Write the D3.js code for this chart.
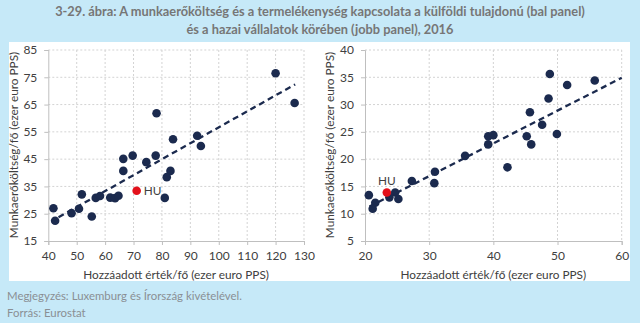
<!DOCTYPE html>
<html><head><meta charset="utf-8">
<script src="https://cdn.jsdelivr.net/npm/d3@7"></script>
<style>
html,body{margin:0;padding:0;background:#c6e9f8;}
svg{display:block;font-family:Lato,"Open Sans",sans-serif;}
</style></head>
<body>
<svg id="c" width="640" height="323"></svg>
<script>
// ---- data ----
const titleLines = ["3-29. ábra: A munkaerőköltség és a termelékenység kapcsolata a külföldi tulajdonú (bal panel)",
                    "és a hazai vállalatok körében (jobb panel), 2016"];
const notes = ["Megjegyzés: Luxemburg és Írország kivételével.", "Forrás: Eurostat"];
const xTitle = "Hozzáadott érték/fő (ezer euro PPS)";
const yTitle = "Munkaerőköltség/fő (ezer euro PPS)";

// left panel (foreign-owned)
const leftX = [120, 126.7, 78.1, 83.9, 92.4, 93.7, 66.4, 69.7, 77.8, 74.5, 66.4, 83.0, 81.7, 81.0, 51.8, 56.7, 58.2, 61.8, 63.5, 64.7, 41.8, 42.4, 48.2, 50.8, 55.3];
const leftY = [76.5, 65.6, 61.8, 52.3, 53.6, 49.8, 45.1, 46.3, 46.3, 43.9, 40.7, 40.7, 38.4, 30.8, 32.1, 30.8, 31.5, 30.9, 30.7, 31.6, 27.0, 22.4, 25.2, 26.8, 24.0];
const leftHU = [71.1, 33.4];
const leftTrendX = [43.6, 126.9];
const leftTrendY = [23.7, 72.4];
const leftXTicks = [40, 50, 60, 70, 80, 90, 100, 110, 120, 130];
const leftYTicks = [15, 25, 35, 45, 55, 65, 75, 85];

// right panel (domestic)
const rightX = [48.8, 51.5, 55.8, 48.6, 45.7, 47.6, 49.9, 45.2, 45.9, 39.2, 40.0, 39.2, 35.6, 42.2, 30.9, 27.3, 30.8, 20.6, 24.7, 23.8, 25.2, 21.6, 21.2];
const rightY = [35.6, 33.6, 34.4, 31.1, 28.6, 26.3, 24.6, 24.2, 22.7, 24.2, 24.4, 22.7, 20.6, 18.5, 17.7, 16.0, 15.6, 13.4, 13.9, 13.0, 12.7, 12.0, 10.9];
const rightHU = [23.4, 13.9];
const rightTrendX = [20.7, 60];
const rightTrendY = [11.3, 34.9];
const rightXTicks = [20, 30, 40, 50, 60];
const rightYTicks = [5, 10, 15, 20, 25, 30, 35, 40];

// ---- drawing ----
const svg = d3.select("#c");
const navy = "#1b2a4e", red = "#e3111b", grid = "#d3d3d3", txt = "#404040";

svg.append("rect").attr("x",0).attr("y",0).attr("width",640).attr("height",323).attr("fill","#c6e9f8");
svg.append("rect").attr("x",9).attr("y",42).attr("width",621).attr("height",239).attr("fill","#ffffff");

svg.selectAll("text.title").data(titleLines).join("text")
  .attr("class","title").attr("x",320).attr("y",(d,i)=>16+i*18)
  .attr("text-anchor","middle").attr("font-size",12.8).attr("font-weight","bold")
  .attr("fill","#767676").text(d=>d);

svg.selectAll("text.note").data(notes).join("text")
  .attr("class","note").attr("x",7).attr("y",(d,i)=>300+i*17)
  .attr("font-size",11.4).attr("fill","#8a8f94").text(d=>d);

function panel(o){
  const g = svg.append("g");
  const x = d3.scaleLinear().domain(o.xd).range([o.x0,o.x1]);
  const y = d3.scaleLinear().domain(o.yd).range([241,50]);
  // gridlines
  g.append("g").selectAll("line").data(o.yt.filter(v=>v!==o.yd[0])).join("line")
    .attr("x1",o.x0).attr("x2",o.x1).attr("y1",d=>y(d)).attr("y2",d=>y(d))
    .attr("stroke",grid).attr("stroke-dasharray","2,2");
  g.append("g").selectAll("line").data(o.xt.filter(v=>v!==o.xd[0])).join("line")
    .attr("x1",d=>x(d)).attr("x2",d=>x(d)).attr("y1",50).attr("y2",241)
    .attr("stroke",grid).attr("stroke-dasharray","2,2");
  // axes
  const ax = g.append("g").attr("transform","translate(0,241)")
    .call(d3.axisBottom(x).tickValues(o.xt).tickSize(4).tickPadding(6).tickFormat(d3.format("d")));
  const ay = g.append("g").attr("transform",`translate(${o.x0},0)`)
    .call(d3.axisLeft(y).tickValues(o.yt).tickSize(4).tickPadding(7).tickFormat(d3.format("d")));
  [ax,ay].forEach(a=>{
    a.select(".domain").attr("stroke","#bfbfbf");
    a.selectAll(".tick line").attr("stroke","#bfbfbf");
    a.selectAll("text").attr("font-family","Lato,sans-serif").attr("font-size",12).attr("fill",txt);
  });
  // titles
  g.append("text").attr("x",(o.x0+o.x1)/2).attr("y",279).attr("text-anchor","middle")
    .attr("font-size",11.8).attr("fill",txt).text(xTitle);
  g.append("text").attr("transform",`translate(${o.ytx},145) rotate(-90)`).attr("text-anchor","middle")
    .attr("font-size",11.8).attr("fill",txt).text(yTitle);
  // trend
  g.append("line").attr("x1",x(o.tx[0])).attr("y1",y(o.ty[0])).attr("x2",x(o.tx[1])).attr("y2",y(o.ty[1]))
    .attr("stroke",navy).attr("stroke-width",2.3).attr("stroke-dasharray","6,4");
  // points
  const pts = o.px.map((v,i)=>[v,o.py[i]]);
  g.append("g").selectAll("circle").data(pts).join("circle")
    .attr("cx",d=>x(d[0])).attr("cy",d=>y(d[1])).attr("r",4.3).attr("fill",navy);
  g.append("circle").attr("cx",x(o.hu[0])).attr("cy",y(o.hu[1])).attr("r",4.3).attr("fill",red);
  g.append("text").attr("x",x(o.hu[0])+o.lx).attr("y",y(o.hu[1])+o.ly).attr("text-anchor",o.la)
    .attr("font-size",11.8).attr("fill",txt).text("HU");
}

panel({xd:[40,130], yd:[15,85], x0:48.3, x1:304, xt:leftXTicks, yt:leftYTicks, ytx:18,
  tx:leftTrendX, ty:leftTrendY, px:leftX, py:leftY, hu:leftHU, lx:7, ly:4.5, la:"start"});
panel({xd:[20,60], yd:[5,40], x0:365, x1:621.7, xt:rightXTicks, yt:rightYTicks, ytx:334,
  tx:rightTrendX, ty:rightTrendY, px:rightX, py:rightY, hu:rightHU, lx:0, ly:-7, la:"middle"});
</script>
</body></html>
